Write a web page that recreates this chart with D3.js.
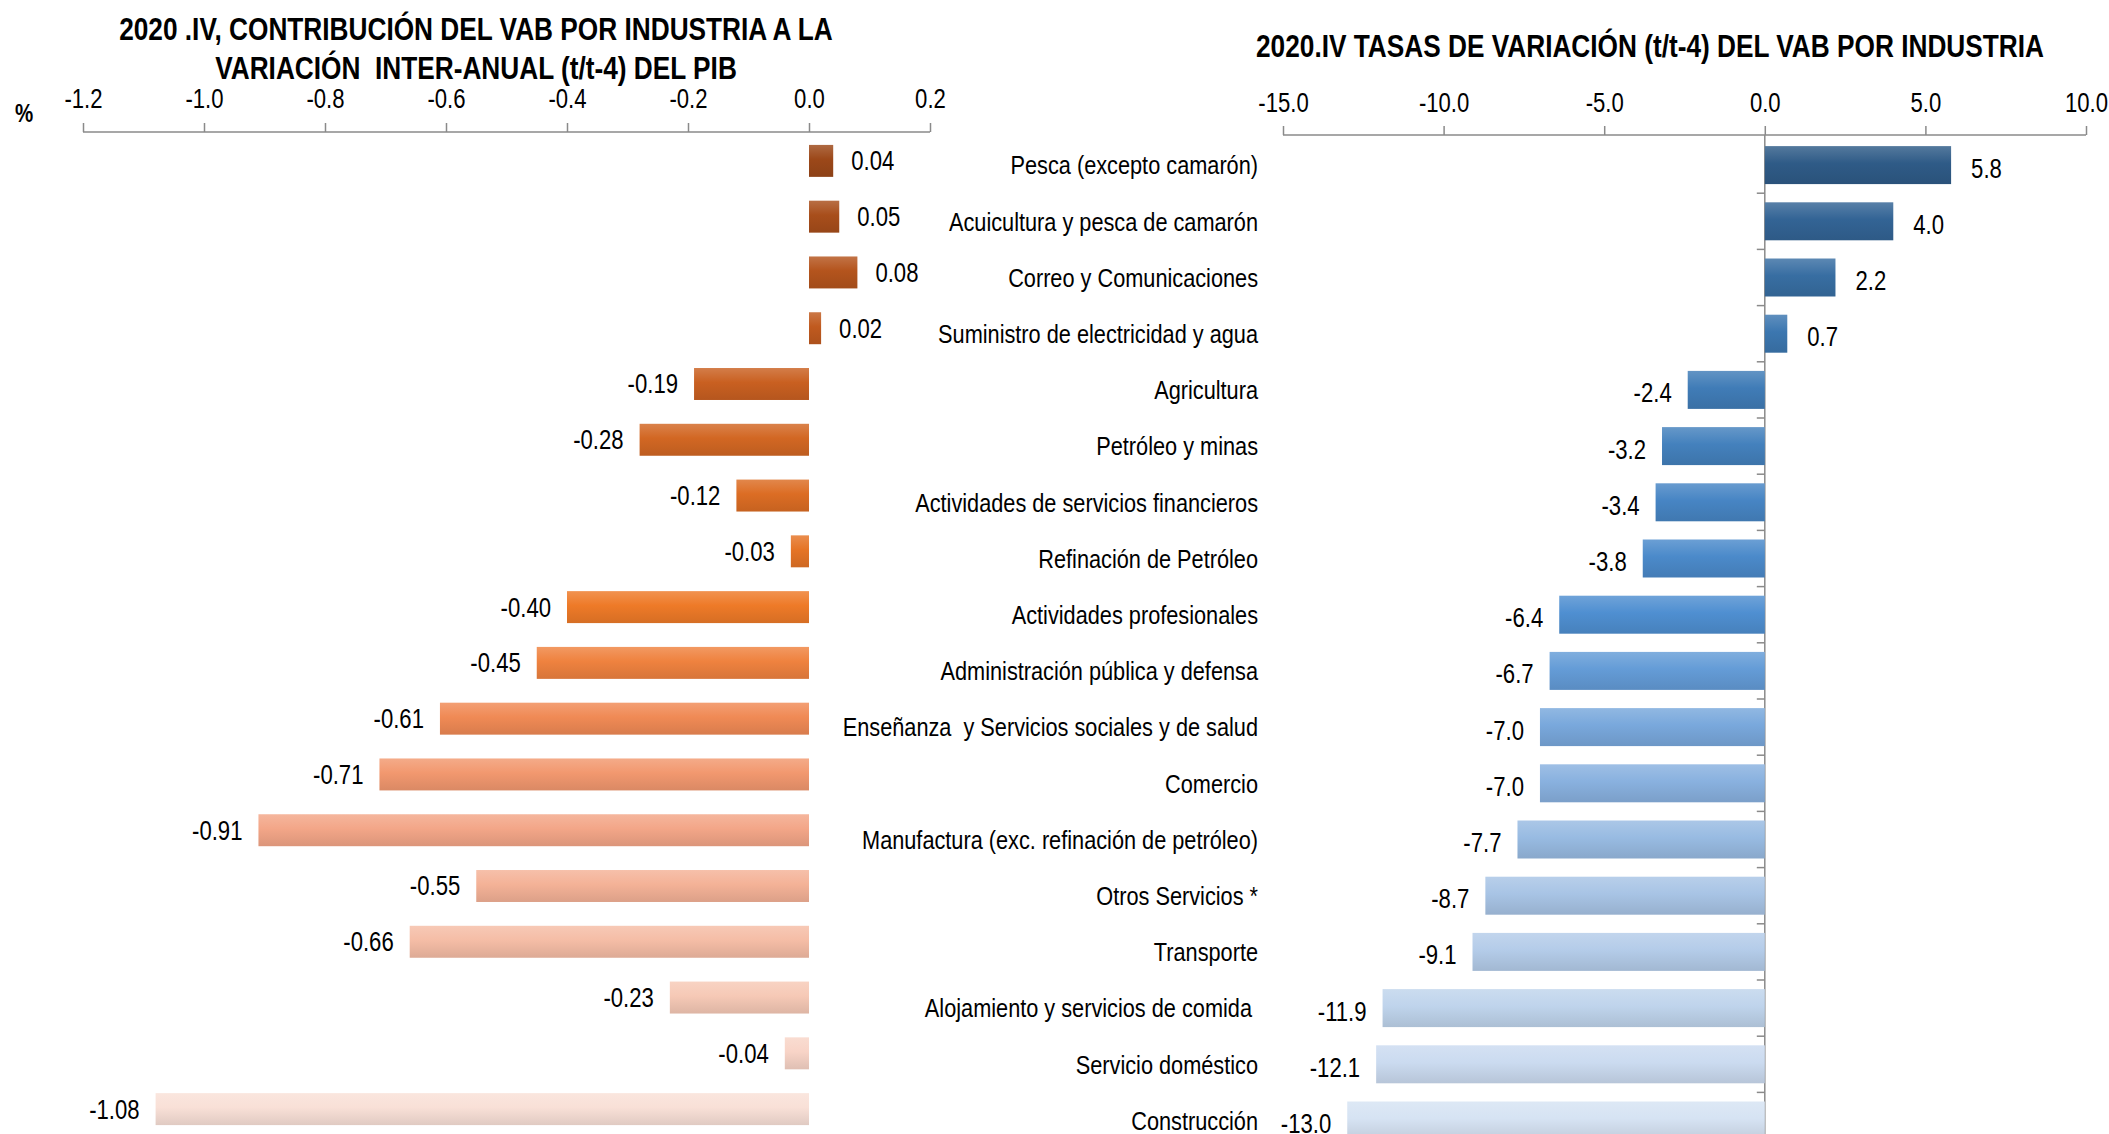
<!DOCTYPE html>
<html>
<head>
<meta charset="utf-8">
<script src="https://cdn.jsdelivr.net/npm/d3@7"></script>
<style>
  body { margin: 0; background: #fff; }
  svg text { font-family: "Liberation Sans", Arial, sans-serif; fill: #000; white-space: pre; }
</style>
</head>
<body>
<div id="chart"></div>
<script>
// industries, top to bottom
var industries = [
    "Pesca (excepto camarón)",
    "Acuicultura y pesca de camarón",
    "Correo y Comunicaciones",
    "Suministro de electricidad y agua",
    "Agricultura",
    "Petróleo y minas",
    "Actividades de servicios financieros",
    "Refinación de Petróleo",
    "Actividades profesionales",
    "Administración pública y defensa",
    "Enseñanza  y Servicios sociales y de salud",
    "Comercio",
    "Manufactura (exc. refinación de petróleo)",
    "Otros Servicios *",
    "Transporte",
    "Alojamiento y servicios de comida ",
    "Servicio doméstico",
    "Construcción"
];

// contribution to GDP change (left)
var contribution = [0.04, 0.05, 0.08, 0.02, -0.19, -0.28, -0.12, -0.03, -0.40, -0.45,
    -0.61, -0.71, -0.91, -0.55, -0.66, -0.23, -0.04, -1.08];

// growth rate t/t-4 (right)
var growth = [5.8, 4.0, 2.2, 0.7, -2.4, -3.2, -3.4, -3.8, -6.4, -6.7,
    -7.0, -7.0, -7.7, -8.7, -9.1, -11.9, -12.1, -13.0];

var leftTicks = [-1.2, -1.0, -0.8, -0.6, -0.4, -0.2, 0.0, 0.2];
var rightTicks = [-15, -10, -5, 0, 5, 10];

var leftTitle = ["2020 .IV, CONTRIBUCIÓN DEL VAB POR INDUSTRIA A LA", "VARIACIÓN  INTER-ANUAL (t/t-4) DEL PIB"];
var rightTitle = "2020.IV TASAS DE VARIACIÓN (t/t-4) DEL VAB POR INDUSTRIA";

var W = 2109, H = 1134;
var NARROW = 0.82; // Arial Narrow look: squeeze text horizontally
var svg = d3.select("#chart").append("svg").attr("width", W).attr("height", H);
var defs = svg.append("defs");

var idx = d3.range(industries.length);

// colours, dark at top to light at bottom
var orange = d3.scaleLinear()
    .domain([0, 3, 8, 10, 12, 14, 17])
    .range(["#9c4819", "#c05a1f", "#ee7a28", "#f08a55", "#f3a688", "#f5bda6", "#f9e0d7"]);
var blue = d3.scaleLinear()
    .domain([0, 3, 8, 10, 13, 17])
    .range(["#2f5b87", "#3c77b0", "#4f8fd1", "#79a8dc", "#a8c4e5", "#d6e3f3"]);

function addGrad(id, c) {
    var g = defs.append("linearGradient").attr("id", id)
        .attr("x1", 0).attr("y1", 0).attr("x2", 0).attr("y2", 1);
    g.append("stop").attr("offset", "0%").attr("stop-color", d3.interpolateRgb(c, "#ffffff")(0.18));
    g.append("stop").attr("offset", "45%").attr("stop-color", c);
    g.append("stop").attr("offset", "100%").attr("stop-color", d3.interpolateRgb(c, "#000000")(0.1));
}
idx.forEach(function (i) {
    addGrad("gl" + i, orange(i));
    addGrad("gr" + i, blue(i));
});

// place a text squeezed around its anchor point
function place(sel, fx, fy) {
    sel.attr("transform", function (d, i) {
        return "translate(" + fx(d, i) + "," + fy(d, i) + ") scale(" + NARROW + ",1)";
    });
}

var axisColor = "#8a8a8a";
var fmt1 = function (d) { return d.toFixed(1); };

// ---------------- left chart ----------------
var xL = d3.scaleLinear().domain([-1.2, 0.2]).range([83, 930]);
var yL = d3.scaleBand().domain(idx).range([133, 1137]).paddingInner(0.427).paddingOuter(0.2135);

var gL = svg.append("g");

gL.selectAll(".ltitle").data(leftTitle).enter().append("text")
    .attr("text-anchor", "middle")
    .style("font-size", "32px").style("font-weight", "bold")
    .text(function (d) { return d; })
    .call(place, function () { return 476; }, function (d, i) { return 40 + i * 39; });

gL.append("text")
    .attr("text-anchor", "middle")
    .style("font-size", "25px").style("font-weight", "bold")
    .text("%")
    .call(place, function () { return 24; }, function () { return 122; });

var axL = gL.append("g").attr("transform", "translate(0,132)")
    .call(d3.axisTop(xL).tickValues(leftTicks).tickSize(9).tickPadding(15).tickFormat(fmt1));
axL.select(".domain").attr("stroke", axisColor).attr("stroke-width", 1.5).attr("d", "M" + xL(-1.2) + ",0H" + xL(0.2));
axL.selectAll(".tick line").attr("stroke", axisColor).attr("stroke-width", 1.5);
axL.selectAll(".tick text").style("font-size", "27px").attr("font-family", null).attr("fill", "#000")
    .attr("transform", "scale(" + NARROW + ",1)");

gL.selectAll(".lbar").data(idx).enter().append("rect")
    .attr("x", function (i) { return xL(Math.min(0, contribution[i])); })
    .attr("y", function (i) { return yL(i); })
    .attr("width", function (i) { return Math.abs(xL(contribution[i]) - xL(0)); })
    .attr("height", yL.bandwidth())
    .attr("fill", function (i) { return "url(#gl" + i + ")"; });

gL.selectAll(".lval").data(idx).enter().append("text")
    .attr("dy", "0.35em")
    .attr("text-anchor", function (i) { return contribution[i] >= 0 ? "start" : "end"; })
    .style("font-size", "27px")
    .text(function (i) { return contribution[i].toFixed(2); })
    .call(place,
        function (i) { return contribution[i] >= 0 ? xL(contribution[i]) + 18 : xL(contribution[i]) - 16; },
        function (i) { return yL(i) + yL.bandwidth() / 2; });

// ---------------- right chart ----------------
var xR = d3.scaleLinear().domain([-15, 10]).range([1283, 2086]);
var yR = d3.scaleBand().domain(idx).range([137, 137 + 18 * 56.2]).paddingInner(0.324).paddingOuter(0.162);

var gR = svg.append("g");

gR.append("text")
    .attr("text-anchor", "middle")
    .style("font-size", "32px").style("font-weight", "bold")
    .text(rightTitle)
    .call(place, function () { return 1650; }, function () { return 57; });

var axR = gR.append("g").attr("transform", "translate(0,135)")
    .call(d3.axisTop(xR).tickValues(rightTicks).tickSize(9).tickPadding(14).tickFormat(fmt1));
axR.select(".domain").attr("stroke", axisColor).attr("stroke-width", 1.5).attr("d", "M" + xR(-15) + ",0H" + xR(10));
axR.selectAll(".tick line").attr("stroke", axisColor).attr("stroke-width", 1.5);
axR.selectAll(".tick text").style("font-size", "27px").attr("font-family", null).attr("fill", "#000")
    .attr("transform", "scale(" + NARROW + ",1)");

// category axis at zero
gR.append("line")
    .attr("x1", xR(0)).attr("x2", xR(0))
    .attr("y1", 135).attr("y2", H)
    .attr("stroke", axisColor).attr("stroke-width", 1.5);
gR.selectAll(".ctick").data(d3.range(1, industries.length + 1)).enter().append("line")
    .attr("x1", xR(0) - 8).attr("x2", xR(0))
    .attr("y1", function (k) { return yR.range()[0] + k * yR.step(); })
    .attr("y2", function (k) { return yR.range()[0] + k * yR.step(); })
    .attr("stroke", axisColor).attr("stroke-width", 1.5);

gR.selectAll(".rbar").data(idx).enter().append("rect")
    .attr("x", function (i) { return xR(Math.min(0, growth[i])); })
    .attr("y", function (i) { return yR(i); })
    .attr("width", function (i) { return Math.abs(xR(growth[i]) - xR(0)); })
    .attr("height", yR.bandwidth())
    .attr("fill", function (i) { return "url(#gr" + i + ")"; });

gR.selectAll(".rval").data(idx).enter().append("text")
    .attr("dy", "0.35em")
    .attr("text-anchor", function (i) { return growth[i] >= 0 ? "start" : "end"; })
    .style("font-size", "27px")
    .text(function (i) { return growth[i].toFixed(1); })
    .call(place,
        function (i) { return growth[i] >= 0 ? xR(growth[i]) + 20 : xR(growth[i]) - 16; },
        function (i) { return yR(i) + yR.bandwidth() / 2 + 3; });

// category names between the charts
svg.selectAll(".cat").data(idx).enter().append("text")
    .attr("dy", "0.35em")
    .attr("text-anchor", "end")
    .style("font-size", "26.5px")
    .text(function (i) { return industries[i]; })
    .call(place, function () { return 1258; }, function (i) { return yR(i) + yR.bandwidth() / 2; });
</script>
</body>
</html>
